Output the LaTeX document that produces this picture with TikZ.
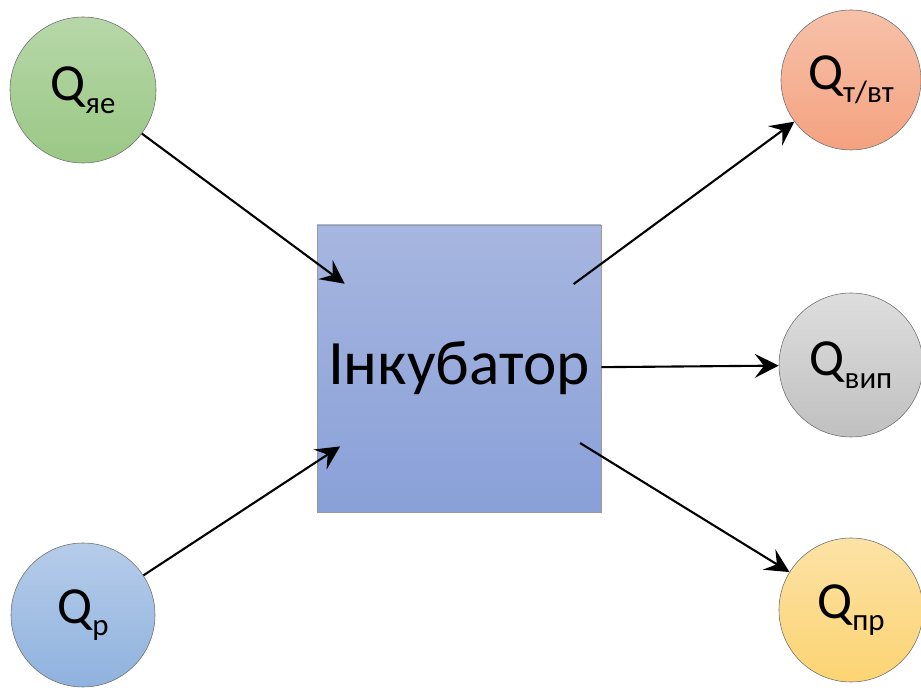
\documentclass[tikz,border=0pt]{standalone}
\usepackage{fontspec}
\setmainfont{Carlito}
\usepackage{xcolor}
\usetikzlibrary{arrows.meta}
\definecolor{greentop}{RGB}{183,215,168}
\definecolor{greenbot}{RGB}{154,200,133}
\definecolor{bluetop}{RGB}{182,204,234}
\definecolor{bluebot}{RGB}{143,178,222}
\definecolor{redtop}{RGB}{247,193,169}
\definecolor{redbot}{RGB}{244,162,128}
\definecolor{greytop}{RGB}{222,222,222}
\definecolor{greybot}{RGB}{192,192,192}
\definecolor{ambertop}{RGB}{252,226,165}
\definecolor{amberbot}{RGB}{252,212,115}
\definecolor{boxtop}{RGB}{167,182,224}
\definecolor{boxbot}{RGB}{137,160,216}
\definecolor{rim}{RGB}{110,110,110}
\newcommand{\flow}[1]{Q\raisebox{-0.24em}{\fontsize{22}{22}\selectfont#1}}

\begin{document}
\begin{tikzpicture}[font=\fontsize{37}{42}\selectfont,
  flowc/.style={circle,draw=rim,thin,minimum size=3.6cm,inner sep=0pt},
  incub/.style={draw=rim!70,thin,minimum width=7.1cm,minimum height=7.175cm,
                inner sep=0pt,top color=boxtop,bottom color=boxbot,
                font=\fontsize{45}{50}\selectfont},
  arr/.style={-{Stealth[length=17pt,width=17pt,inset=6.5pt]},black,line width=1.5pt}]
  \useasboundingbox (0,0) rectangle (23.025,17.2);
  % incubator and the round zone the arrows meet
  \node[incub] (inc) at (11.475,7.99) {Інкубатор};
  \node[circle,minimum size=7.1cm,inner sep=0pt] (hub) at (inc.center) {};
  % incoming flows
  \node[flowc,top color=greentop,bottom color=greenbot,minimum size=3.65cm] (qye) at (2.075,14.95) {\flow{яе}};
  \node[flowc,top color=bluetop,bottom color=bluebot] (qr) at (2.075,1.825) {\flow{р}};
  % outgoing flows
  \node[flowc,top color=redtop,bottom color=redbot,minimum size=3.5cm] (qtvt) at (21.275,15.2) {\flow{т/вт}};
  \node[flowc,top color=greytop,bottom color=greybot] (qvyp) at (21.275,8.075) {\flow{вип}};
  \node[flowc,top color=ambertop,bottom color=amberbot] (qpr) at (21.275,1.95) {\flow{пр}};
  \foreach \i in {qye,qr} \draw[arr] (\i) -- (hub);
  \foreach \o in {qtvt,qvyp,qpr} \draw[arr] (hub) -- (\o);
\end{tikzpicture}
\end{document}
